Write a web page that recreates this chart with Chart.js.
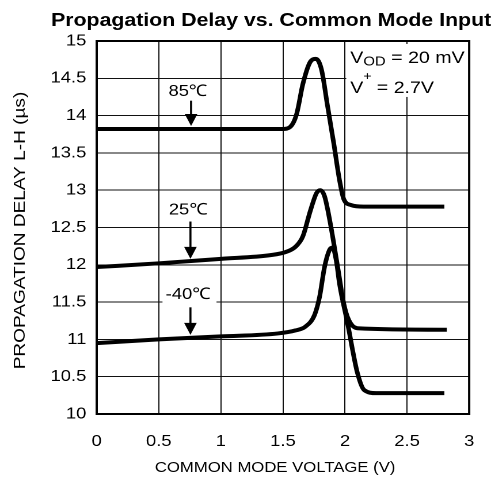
<!DOCTYPE html>
<html>
<head>
<meta charset="utf-8">
<script src="https://cdn.jsdelivr.net/npm/chart.js@4.4.0/dist/chart.umd.min.js"></script>
<style>
html, body { margin: 0; padding: 0; background: #fff; overflow: hidden; }
/* the reference is a horizontally stretched plot, so stretch the canvas the same way */
#wrap { width: 430px; height: 481px; transform: scaleX(1.1512); transform-origin: 0 0; }
</style>
</head>
<body>
<div id="wrap"><canvas id="chart" width="430" height="481"></canvas></div>
<script>
// --- Data ---
const xTickValues = [0, 0.5, 1, 1.5, 2, 2.5, 3];
const xTickLabels = ['0', '0.5', '1', '1.5', '2', '2.5', '3'];
const yTickValues = [10, 10.5, 11, 11.5, 12, 12.5, 13, 13.5, 14, 14.5, 15];
const yTickLabels = ['10', '10.5', '11', '11.5', '12', '12.5', '13', '13.5', '14', '14.5', '15'];

// 85°C
const curveX85 = [0, 1.50, 1.56, 1.61, 1.66, 1.72, 1.765, 1.81, 1.86, 1.91, 1.955, 1.99, 2.05, 2.15, 2.80];
const curveY85 = [13.82, 13.82, 13.85, 14.02, 14.42, 14.72, 14.76, 14.62, 14.12, 13.62, 13.14, 12.88, 12.80, 12.78, 12.78];
// 25°C
const curveX25 = [0, 0.5, 1.0, 1.40, 1.52, 1.60, 1.66, 1.72, 1.77, 1.80, 1.835, 1.88, 1.94, 1.99, 2.03, 2.10, 2.82];
const curveY25 = [11.97, 12.02, 12.08, 12.13, 12.17, 12.24, 12.38, 12.72, 12.96, 13.00, 12.92, 12.57, 11.98, 11.48, 11.26, 11.15, 11.13];
// -40°C
const curveXm40 = [0, 0.5, 1.0, 1.46, 1.60, 1.68, 1.755, 1.795, 1.835, 1.875, 1.90, 1.93, 1.955, 2.02, 2.10, 2.155, 2.25, 2.80];
const curveYm40 = [10.95, 11.00, 11.04, 11.08, 11.12, 11.17, 11.33, 11.57, 11.97, 12.20, 12.23, 12.05, 11.75, 11.22, 10.55, 10.32, 10.28, 10.28];

// temperature labels: text, text position, arrow x, arrow start / tip (data units)
const tempLabels = ['85\u2103', '25\u2103', '-40\u2103'];
const labelX = [0.735, 0.737, 0.737];
const labelY = [14.32, 12.73, 11.60];
const arrowX = [0.76, 0.755, 0.755];
const arrowFrom = [14.20, 12.58, 11.43];
const arrowTo = [13.86, 12.08, 11.06];

const FONT = '"Liberation Sans", Arial, Helvetica, sans-serif';

function pts(xs, ys) {
    return xs.map((x, i) => ({x: x, y: ys[i]}));
}

function lineSet(label, xs, ys) {
    return {
        label: label,
        data: pts(xs, ys),
        borderColor: '#000',
        borderWidth: 4,
        pointRadius: 0,
        fill: false,
        cubicInterpolationMode: 'monotone'
    };
}

function arrow(ctx, x, y0, y1) {
    ctx.beginPath();
    ctx.moveTo(x, y0);
    ctx.lineTo(x, y1 - 9);
    ctx.lineWidth = 1.8;
    ctx.strokeStyle = '#000';
    ctx.stroke();
    ctx.beginPath();
    ctx.moveTo(x - 5.5, y1 - 12);
    ctx.lineTo(x + 5.5, y1 - 12);
    ctx.lineTo(x, y1);
    ctx.closePath();
    ctx.fillStyle = '#000';
    ctx.fill();
}

const decor = {
    id: 'decor',
    beforeDatasetsDraw(chart) {
        const {ctx, scales: {x, y}} = chart;
        ctx.save();
        ctx.fillStyle = '#fff';
        // conditions box (upper right)
        const bx = x.getPixelForValue(2.01), by = y.getPixelForValue(14.96);
        ctx.fillRect(bx, by, x.getPixelForValue(3) - bx, y.getPixelForValue(14.25) - by);
        // backing behind the -40 label
        const lx = x.getPixelForValue(0.53), ly = y.getPixelForValue(11.76);
        ctx.fillRect(lx, ly, x.getPixelForValue(0.965) - lx, y.getPixelForValue(11.45) - ly);
        ctx.restore();
    },
    afterDraw(chart) {
        const {ctx, chartArea: a, scales: {x, y}} = chart;
        ctx.save();
        // frame
        ctx.lineWidth = 2;
        ctx.strokeStyle = '#000';
        ctx.strokeRect(a.left, a.top, a.right - a.left, a.bottom - a.top);

        ctx.fillStyle = '#000';
        // title
        ctx.font = 'bold 18.5px ' + FONT;
        ctx.textAlign = 'center';
        ctx.textBaseline = 'alphabetic';
        ctx.fillText('Propagation Delay vs. Common Mode Input', 235.5, 26);

        // x axis title
        ctx.font = '14.5px ' + FONT;
        ctx.fillText('COMMON MODE VOLTAGE (V)', 239, 472);

        // y axis title
        ctx.save();
        ctx.translate(17.5, (a.top + a.bottom) / 2 + 3);
        ctx.rotate(-Math.PI / 2);
        ctx.scale(1.36, 1);
        ctx.font = '14px ' + FONT;
        ctx.textBaseline = 'middle';
        ctx.fillText('PROPAGATION DELAY L-H (\u00b5s)', 0, 0);
        ctx.restore();

        // temperature labels and arrows
        ctx.font = '16px ' + FONT;
        ctx.textAlign = 'center';
        ctx.textBaseline = 'middle';
        tempLabels.forEach((t, i) => {
            ctx.fillText(t, x.getPixelForValue(labelX[i]), y.getPixelForValue(labelY[i]));
            arrow(ctx, x.getPixelForValue(arrowX[i]), y.getPixelForValue(arrowFrom[i]), y.getPixelForValue(arrowTo[i]));
        });

        // conditions text
        ctx.textAlign = 'left';
        ctx.textBaseline = 'alphabetic';
        let tx = x.getPixelForValue(2.042);
        let ty = y.getPixelForValue(14.705);
        ctx.font = '17px ' + FONT;
        ctx.fillText('V', tx, ty);
        tx += ctx.measureText('V').width;
        ctx.font = '13px ' + FONT;
        ctx.fillText('OD', tx, ty + 2.5);
        tx += ctx.measureText('OD').width;
        ctx.font = '17px ' + FONT;
        ctx.fillText(' = 20 mV', tx, ty);

        tx = x.getPixelForValue(2.042);
        ty = y.getPixelForValue(14.30);
        ctx.fillText('V', tx, ty);
        tx += ctx.measureText('V').width;
        ctx.font = '12px ' + FONT;
        ctx.fillText('+', tx, ty - 13);
        tx += ctx.measureText('+').width;
        ctx.font = '17px ' + FONT;
        ctx.fillText(' = 2.7V', tx, ty);
        ctx.restore();
    }
};

new Chart(document.getElementById('chart'), {
    type: 'line',
    data: {
        datasets: [
            lineSet('85C', curveX85, curveY85),
            lineSet('25C', curveX25, curveY25),
            lineSet('-40C', curveXm40, curveYm40)
        ]
    },
    options: {
        responsive: false,
        animation: false,
        devicePixelRatio: 2,
        layout: {padding: {top: 41, right: 19, bottom: 0, left: 0}},
        plugins: {legend: {display: false}, tooltip: {enabled: false}},
        scales: {
            x: {
                type: 'linear',
                min: 0, max: 3,
                afterBuildTicks: s => { s.ticks = xTickValues.map(v => ({value: v})); },
                afterFit: s => { s.height = 67; },
                ticks: {
                    callback: (v) => xTickLabels[xTickValues.indexOf(v)],
                    color: '#000',
                    font: {family: FONT, size: 16},
                    padding: 18,
                    maxRotation: 0
                },
                grid: {color: '#111', lineWidth: 1, drawTicks: false},
                border: {color: '#000', width: 2}
            },
            y: {
                type: 'linear',
                min: 10, max: 15,
                afterBuildTicks: s => { s.ticks = yTickValues.map(v => ({value: v})); },
                afterFit: s => { s.width = 84; },
                ticks: {
                    callback: (v) => yTickLabels[yTickValues.indexOf(v)],
                    color: '#000',
                    font: {family: FONT, size: 16},
                    padding: 9
                },
                grid: {color: '#111', lineWidth: 1, drawTicks: false},
                border: {color: '#000', width: 2}
            }
        }
    },
    plugins: [decor]
});
</script>
</body>
</html>
